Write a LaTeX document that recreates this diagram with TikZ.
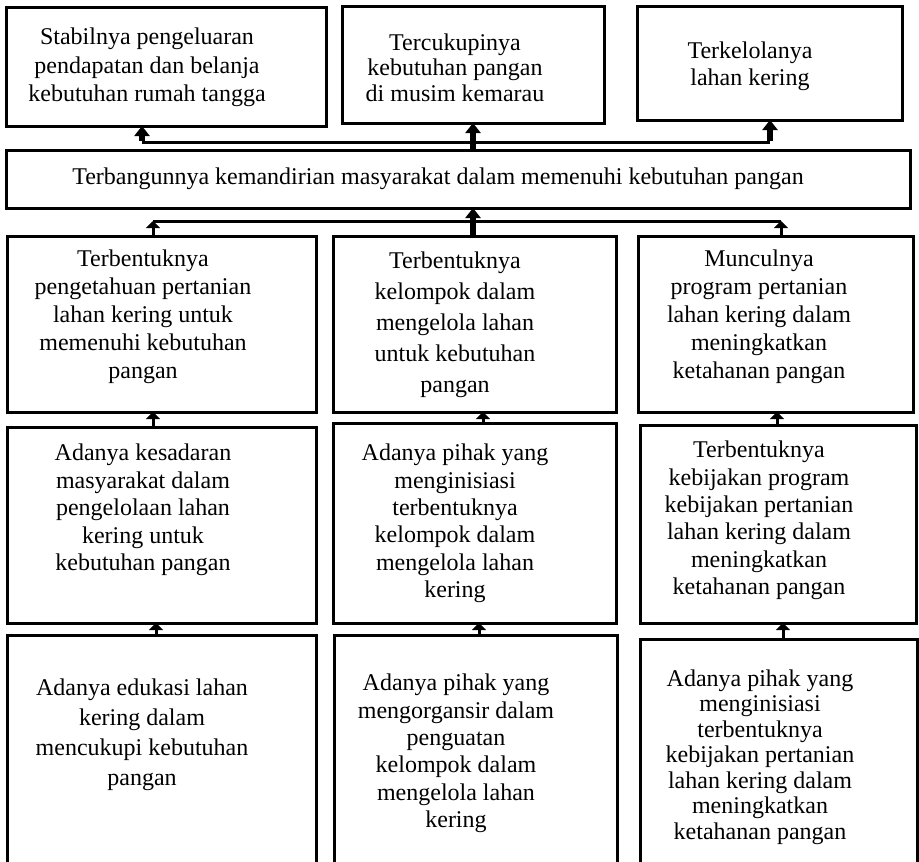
\documentclass[tikz,border=0pt]{standalone}
\usepackage{fontspec}
\setmainfont{Liberation Serif}
\usetikzlibrary{arrows.meta}
\begin{document}
\begin{tikzpicture}[x=1pt,y=-1pt,
  box/.style={draw, line width=3pt, inner sep=0pt, outer sep=0pt},
  txt/.style={align=center, inner sep=0pt, outer sep=0pt},
  fat/.style={line width=6pt, -{Triangle[width=15pt,length=10pt]}},
  sm/.style={line width=3pt, -{Triangle[width=14pt,length=7pt]}},
  bus/.style={line width=3pt}]
\useasboundingbox (0,0) rectangle (919,862);
\clip (0,0) rectangle (919,862);
% boxes
\node[box, minimum width=320pt, minimum height=119pt] (A) at (166,66.5) {};
\node[box, minimum width=262pt, minimum height=117pt] (B) at (473,64.5) {};
\node[box, minimum width=265pt, minimum height=114pt] (C) at (769.5,63) {};
\node[box, minimum width=904pt, minimum height=58pt] (M) at (458,179) {};
\node[box, minimum width=309pt, minimum height=176pt] (R2L) at (161.5,324) {};
\node[box, minimum width=283pt, minimum height=176pt] (R2M) at (474.5,324) {};
\node[box, minimum width=275pt, minimum height=176pt] (R2R) at (775.5,324) {};
\node[box, minimum width=309pt, minimum height=196pt] (R3L) at (161.5,525) {};
\node[box, minimum width=283pt, minimum height=200pt] (R3M) at (474.5,523) {};
\node[box, minimum width=276pt, minimum height=198pt] (R3R) at (778,524) {};
\node[box, minimum width=309pt, minimum height=245pt] (R4L) at (161.5,757.5) {};
\node[box, minimum width=283pt, minimum height=245pt] (R4M) at (475.5,757.5) {};
\node[box, minimum width=277pt, minimum height=241pt] (R4R) at (778.5,759.5) {};
% texts
\node[txt, font=\fontsize{24}{28.5}\selectfont] (tA) at (147,67.5) {Stabilnya pengeluaran\\pendapatan dan belanja\\kebutuhan rumah tangga};
\node[txt, font=\fontsize{24}{25.5}\selectfont] (tB) at (455,67.5) {Tercukupinya\\kebutuhan pangan\\di musim kemarau};
\node[txt, font=\fontsize{24}{27}\selectfont] (tC) at (750,66.5) {Terkelolanya\\lahan kering};
\node[txt, font=\fontsize{24}{28}\selectfont] (tM) at (438,179) {Terbangunnya kemandirian masyarakat dalam memenuhi kebutuhan pangan};
\node[txt, font=\fontsize{24}{28}\selectfont] (t2L) at (143,317) {Terbentuknya\\pengetahuan pertanian\\lahan kering untuk\\memenuhi kebutuhan\\pangan};
\node[txt, font=\fontsize{24}{31}\selectfont] (t2M) at (455,325) {Terbentuknya\\kelompok dalam\\mengelola lahan\\untuk kebutuhan\\pangan};
\node[txt, font=\fontsize{24}{28}\selectfont] (t2R) at (759,317) {Munculnya\\program pertanian\\lahan kering dalam\\meningkatkan\\ketahanan pangan};
\node[txt, font=\fontsize{24}{27.5}\selectfont] (t3L) at (143,510) {Adanya kesadaran\\masyarakat dalam\\pengelolaan lahan\\kering untuk\\kebutuhan pangan};
\node[txt, font=\fontsize{24}{27.4}\selectfont] (t3M) at (455,523.5) {Adanya pihak yang\\menginisiasi\\terbentuknya\\kelompok dalam\\mengelola lahan\\kering};
\node[txt, font=\fontsize{24}{27.4}\selectfont] (t3R) at (759,520.5) {Terbentuknya\\kebijakan program\\kebijakan pertanian\\lahan kering dalam\\meningkatkan\\ketahanan pangan};
\node[txt, font=\fontsize{24}{30}\selectfont] (t4L) at (142,735) {Adanya edukasi lahan\\kering dalam\\mencukupi kebutuhan\\pangan};
\node[txt, font=\fontsize{24}{27.4}\selectfont] (t4M) at (456,753.5) {Adanya pihak yang\\mengorgansir dalam\\penguatan\\kelompok dalam\\mengelola lahan\\kering};
\node[txt, font=\fontsize{24}{25.5}\selectfont] (t4R) at (760,757) {Adanya pihak yang\\menginisiasi\\terbentuknya\\kebijakan pertanian\\lahan kering dalam\\meningkatkan\\ketahanan pangan};
% coordinates
\coordinate (b1L) at (142,142);
\coordinate (b1R) at (770,142);
\coordinate (b2L) at (153,221);
\coordinate (b2R) at (781,221);
\coordinate (xM) at (473,0);
\coordinate (x3L) at (153,0);
\coordinate (x3M) at (483,0);
\coordinate (x3R) at (777,0);
\coordinate (x4L) at (156,0);
\coordinate (x4M) at (479,0);
\coordinate (x4R) at (783,0);
% top connectors
\draw[bus] (b1L) -- (b1R);
\draw[fat] (M.north -| xM) -- (B.south -| xM);
\draw[fat] ([yshift=1.5pt]b1L) -- (A.south -| b1L);
\draw[fat] ([yshift=1.5pt]b1R) -- (C.south -| b1R);
% second bus
\draw[bus] (b2L) -- (b2R);
\draw[sm] (R2L.north -| b2L) -- (b2L);
\draw[sm] (R2R.north -| b2R) -- (b2R);
\draw[fat] (R2M.north -| xM) -- (M.south -| xM);
% rows 2-3
\draw[sm] (R3L.north -| x3L) -- (R2L.south -| x3L);
\draw[sm] (R3M.north -| x3M) -- (R2M.south -| x3M);
\draw[sm] (R3R.north -| x3R) -- (R2R.south -| x3R);
% rows 3-4
\draw[sm] (R4L.north -| x4L) -- (R3L.south -| x4L);
\draw[sm] (R4M.north -| x4M) -- (R3M.south -| x4M);
\draw[sm] (R4R.north -| x4R) -- (R3R.south -| x4R);
\end{tikzpicture}
\end{document}
